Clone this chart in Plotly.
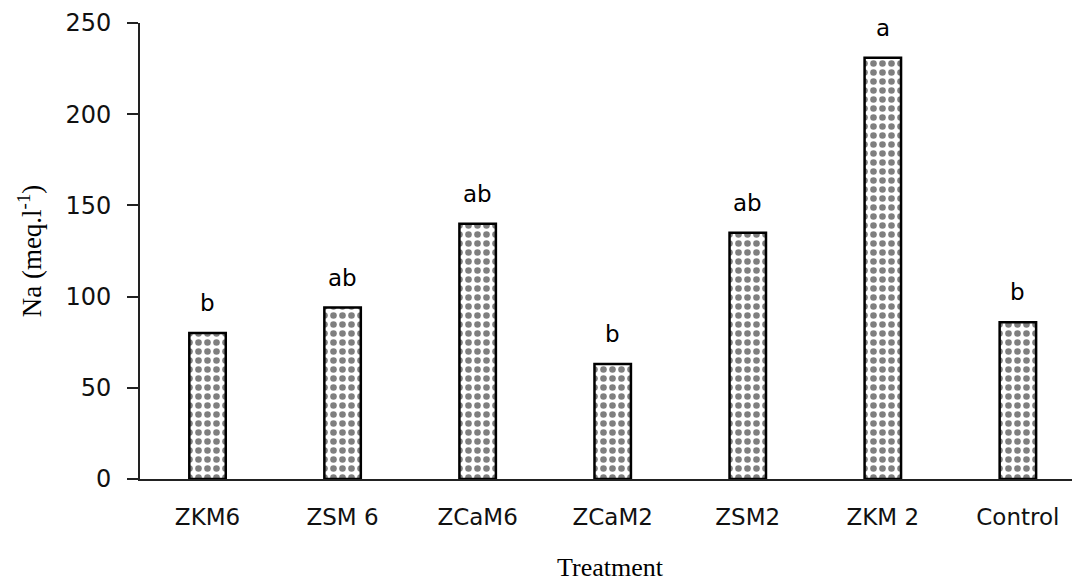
import plotly.graph_objects as go

categories = ["ZKM6", "ZSM 6", "ZCaM6", "ZCaM2", "ZSM2", "ZKM 2", "Control"]
na_values = [80, 94, 140, 63, 135, 231, 86]
letters = ["b", "ab", "ab", "b", "ab", "a", "b"]
y_ticks = [0, 50, 100, 150, 200, 250]

fig = go.Figure()
fig.add_trace(go.Bar(
    x=categories,
    y=na_values,
    width=0.27,
    marker=dict(
        color="white",
        line=dict(color="black", width=2.5),
        pattern=dict(shape=".", fgcolor="black", bgcolor="white", size=9, solidity=0.42),
    ),
    showlegend=False,
))

for c, v, t in zip(categories, na_values, letters):
    fig.add_annotation(x=c, y=v, text=t, showarrow=False, yanchor="bottom", yshift=15,
                       font=dict(family="DejaVu Sans", size=23, color="black"))

# page body has an 8px margin, so the figure is sized/offset to compensate
fig.update_layout(
    width=1072, height=574,
    margin=dict(l=132, r=0, t=15, b=103),
    plot_bgcolor="white", paper_bgcolor="white",
    bargap=0.73,
)
fig.update_yaxes(
    range=[0, 250], tickvals=y_ticks,
    showline=True, linecolor="#222", linewidth=2,
    ticks="outside", ticklen=11, tickwidth=2, tickcolor="#222",
    ticklabelstandoff=11,
    showgrid=False, zeroline=False,
    tickfont=dict(family="DejaVu Sans", size=24, color="#111"),
    title=dict(text="Na (meq.l<sup>-1</sup>)", standoff=16,
               font=dict(family="Liberation Serif", size=27, color="black")),
)
fig.update_xaxes(
    range=[-0.5, 6.46],
    showline=True, linecolor="#222", linewidth=2,
    ticks="", showgrid=False,
    ticklabelstandoff=16,
    tickfont=dict(family="DejaVu Sans", size=23, color="#111"),
    title=dict(text="Treatment", standoff=30,
               font=dict(family="Liberation Serif", size=26, color="black")),
)

fig.write_html("out.html")
